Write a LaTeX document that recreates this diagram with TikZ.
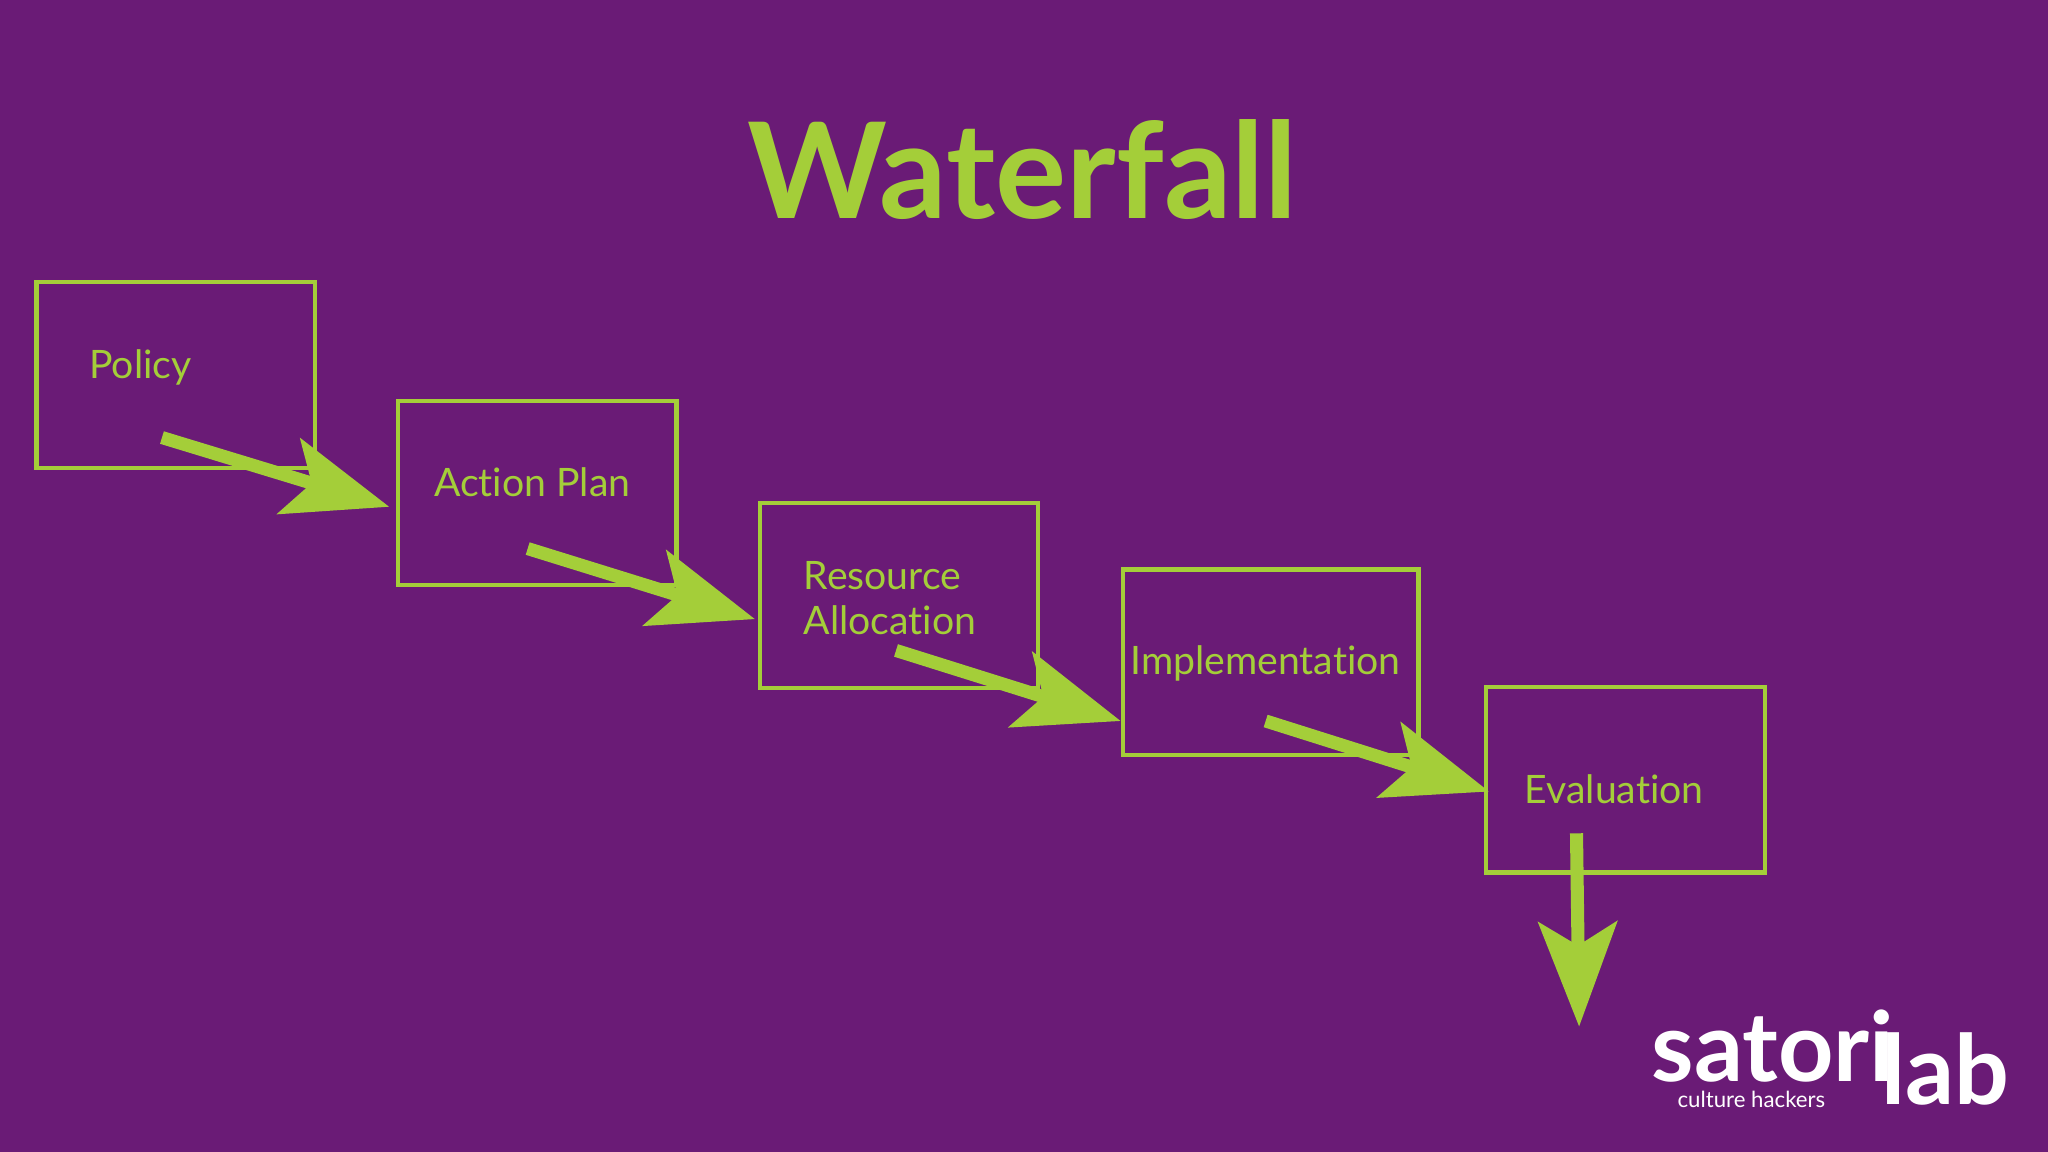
\documentclass[tikz,border=0pt]{standalone}
\usepackage{fontspec}
\setmainfont[Ligatures={NoCommon}]{Lato}
\usetikzlibrary{arrows.meta}
\definecolor{bg}{HTML}{6A1B76}
\definecolor{gr}{HTML}{A4CE39}
\begin{document}
\begin{tikzpicture}[x=0.5pt,y=-0.5pt,
  box/.style={draw=gr,line width=1.6pt},
  lbl/.style={text=gr,font=\fontsize{15}{18}\selectfont,inner sep=0pt},
  flow/.style={draw=gr,line width=5pt,-{Stealth[length=40pt,width=30pt,inset=9pt]}}]
\fill[bg] (0,0) rectangle (1568,882);
\useasboundingbox (0,0) rectangle (1568,882);
\node[text=gr,font=\fontsize{51}{60}\selectfont\bfseries] (title) at (783,130) {Waterfall};
\draw[box] (28,216) rectangle (241,358);
\draw[box] (305,307) rectangle (518,448);
\draw[box] (582,385) rectangle (795,527);
\draw[box] (860,436) rectangle (1086,578);
\draw[box] (1138,526) rectangle (1351,668);
\node[lbl,anchor=west] (p) at (68,281) {Policy};
\node[lbl,anchor=west] (a) at (332,369) {Action Plan};
\node[lbl,anchor=west,align=left] (r) at (615,458) {Resource\\[-1pt]Allocation};
\node[lbl,anchor=west] (i) at (865,508) {Implementation};
\node[lbl,anchor=west] (e) at (1167,604) {Evaluation};
\coordinate (s1) at (124,335); \coordinate (t1) at (298,388);
\coordinate (s2) at (404,420); \coordinate (t2) at (578,474);
\coordinate (s3) at (686,498); \coordinate (t3) at (858,552);
\coordinate (s4) at (969,552); \coordinate (t4) at (1140,606);
\coordinate (s5) at (1207,638); \coordinate (t5) at (1209,786);
\foreach \k in {1,...,5} {\draw[flow] (s\k) -- (t\k);}
\node[text=white,font=\fontsize{37}{37}\selectfont\bfseries,anchor=base west,inner sep=0pt] (sat) at (1264,828) {satori};
\node[text=white,font=\fontsize{37}{37}\selectfont\bfseries,anchor=base west,inner sep=0pt] (lab) at (1440,846) {lab};
\node[text=white,font=\fontsize{8.5}{8.5}\selectfont,anchor=base west,inner sep=0pt] (ch) at (1284,848) {culture hackers};
\end{tikzpicture}
\end{document}
